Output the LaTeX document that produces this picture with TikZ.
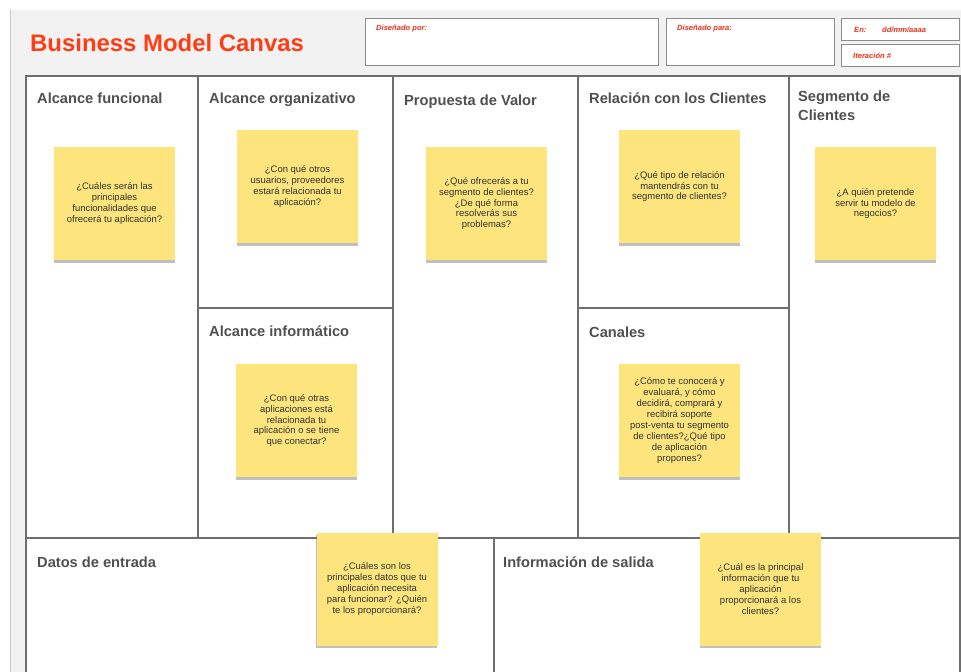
\documentclass[tikz,border=0pt]{standalone}
\usepackage{fontspec}
\setmainfont{Liberation Sans}
\usepackage{tikz}
\usetikzlibrary{shadows}
\definecolor{bmcred}{HTML}{FF3D14}
\definecolor{labred}{HTML}{E8331C}
\definecolor{gridgray}{HTML}{6E6E6E}
\definecolor{pagegray}{HTML}{F2F2F2}
\definecolor{edgegray}{HTML}{C8C8C8}
\definecolor{noteyellow}{HTML}{FDE47D}
\definecolor{headgray}{HTML}{505050}
\definecolor{notetext}{HTML}{333333}
\tikzset{
  infobox/.style={draw=gridgray!80,line width=0.8bp,fill=white},
  infolabel/.style={anchor=base west,inner sep=0,text=labred,font=\bfseries\itshape\fontsize{7.6}{9}\selectfont},
  blockhead/.style={anchor=base west,inner sep=0,text=headgray,align=left,font=\bfseries\fontsize{14.7}{19}\selectfont},
  gridline/.style={draw=gridgray,line width=2bp},
  sticky/.style={fill=noteyellow,minimum width=121bp,minimum height=113bp,inner sep=2bp,align=center,text=notetext,
    font=\fontsize{9.5}{11}\selectfont,
    drop shadow={shadow xshift=-0.5bp,shadow yshift=-2.5bp,opacity=0.35,fill=black!70}}
}

\begin{document}
\begin{tikzpicture}
\useasboundingbox (0bp,0bp) rectangle (961bp,-672bp);
% page and header
\fill[white] (0bp,0bp) rectangle (961bp,-672bp);
\fill[pagegray] (10bp,-10bp) rectangle (961bp,-672bp);
\draw[edgegray,line width=1bp] (10bp,-10bp) -- (10bp,-672bp);
\node (title) at (30bp,-51bp)[anchor=base west,inner sep=0,text=bmcred,font=\bfseries\fontsize{24}{28}\selectfont] {Business Model Canvas};
\draw[infobox] (365bp,-18bp) rectangle (658bp,-65bp);
\draw[infobox] (666bp,-18bp) rectangle (834bp,-65bp);
\draw[infobox] (841bp,-18bp) rectangle (959bp,-40bp);
\draw[infobox] (841bp,-44bp) rectangle (959bp,-66bp);
\node (por) at (376bp,-30bp)[infolabel] {Diseñado por:};
\node (para) at (677bp,-30bp)[infolabel] {Diseñado para:};
\node (en) at (854bp,-32bp)[infolabel] {En:};
\node (fecha) at (882bp,-32bp)[infolabel] {dd/mm/aaaa};
\node (iter) at (853bp,-58bp)[infolabel] {Iteración \#};
% canvas grid
\fill[white] (26bp,-76bp) rectangle (960bp,-680bp);
\draw[gridline] (26bp,-680bp) -- (26bp,-76bp) -- (960bp,-76bp) -- (960bp,-680bp);
\draw[gridline] (198bp,-76bp) -- (198bp,-538bp);
\draw[gridline] (393bp,-76bp) -- (393bp,-538bp);
\draw[gridline] (578bp,-76bp) -- (578bp,-538bp);
\draw[gridline] (789bp,-76bp) -- (789bp,-538bp);
\draw[gridline] (198bp,-308bp) -- (393bp,-308bp);
\draw[gridline] (578bp,-308bp) -- (789bp,-308bp);
\draw[gridline] (26bp,-538bp) -- (960bp,-538bp);
\draw[gridline] (494bp,-538bp) -- (494bp,-680bp);
% block titles
\node (hFunc) at (37bp,-103bp)[blockhead] {Alcance funcional};
\node (hOrg) at (209bp,-103bp)[blockhead] {Alcance organizativo};
\node (hProp) at (404bp,-105bp)[blockhead] {Propuesta de Valor};
\node (hRel) at (589bp,-103bp)[blockhead] {Relación con los Clientes};
\node (hSeg) at (798bp,-103bp)[blockhead,anchor=north west,yshift=12bp] {Segmento de\\Clientes};
\node (hInf) at (209bp,-336bp)[blockhead] {Alcance informático};
\node (hCan) at (589bp,-337bp)[blockhead] {Canales};
\node (hDat) at (37bp,-567bp)[blockhead] {Datos de entrada};
\node (hSal) at (503bp,-567bp)[blockhead] {Información de salida};
% sticky notes
\node (nFunc) at (114.5bp,-203.5bp)[sticky] {¿Cuáles serán las\\principales\\funcionalidades que\\ofrecerá tu aplicación?};
\node (nOrg) at (297.5bp,-186.5bp)[sticky] {¿Con qué otros\\usuarios, proveedores\\estará relacionada tu\\aplicación?};
\node (nProp) at (486.5bp,-203.5bp)[sticky] {¿Qué ofrecerás a tu\\segmento de clientes?\\¿De qué forma\\resolverás sus\\problemas?};
\node (nRel) at (679.5bp,-186.5bp)[sticky] {¿Qué tipo de relación\\mantendrás con tu\\segmento de clientes?};
\node (nSeg) at (875.5bp,-203.5bp)[sticky] {¿A quién pretende\\servir tu modelo de\\negocios?};
\node (nInf) at (296.5bp,-420.5bp)[sticky] {¿Con qué otras\\aplicaciones está\\relacionada tu\\aplicación o se tiene\\que conectar?};
\node (nCan) at (679.5bp,-420.5bp)[sticky] {¿Cómo te conocerá y\\evaluará, y cómo\\decidirá, comprará y\\recibirá soporte\\post-venta tu segmento\\de clientes?¿Qué tipo\\de aplicación\\propones?};
\node (nDat) at (377bp,-589bp)[sticky] {¿Cuáles son los\\principales datos que tu\\aplicación necesita\\para funcionar? ¿Quién\\te los proporcionará?};
\node (nSal) at (760.5bp,-589bp)[sticky] {¿Cuál es la principal\\información que tu\\aplicación\\proporcionará a los\\clientes?};
\end{tikzpicture}
\end{document}
